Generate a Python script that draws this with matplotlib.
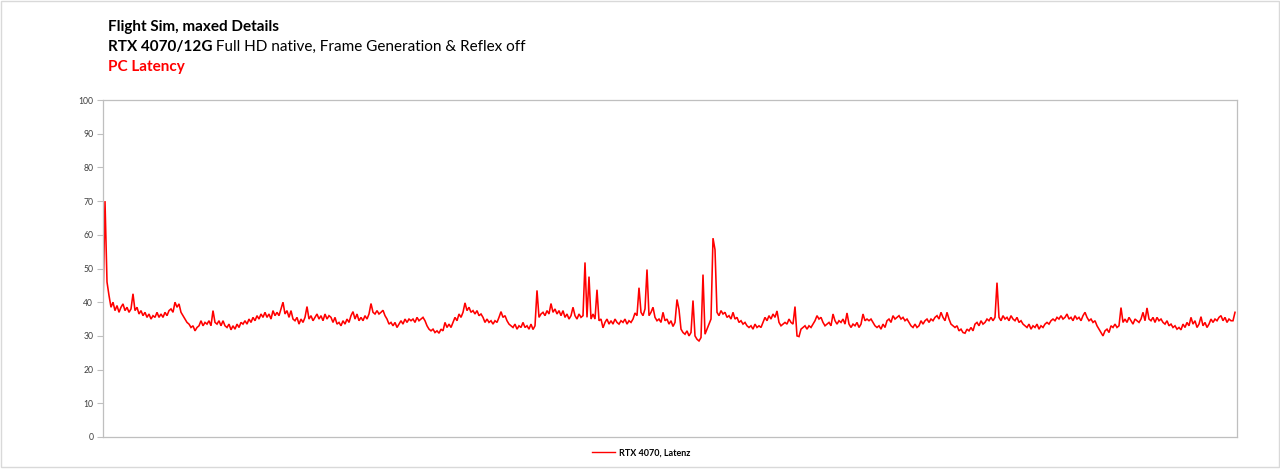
import matplotlib
matplotlib.use("Agg")
import matplotlib.pyplot as plt
from matplotlib.patches import Rectangle

title_line1 = "Flight Sim, maxed Details"
title_line2_bold = "RTX 4070/12G"
title_line2_regular = " Full HD native, Frame Generation & Reflex off"
title_line3 = "PC Latency"
series_label = "RTX 4070, Latenz"
y_ticks = [0, 10, 20, 30, 40, 50, 60, 70, 80, 90, 100]

# PC latency in ms, one sample per ~2 px of the reference trace
latency = [
    39, 70, 46, 42, 38.5, 40, 37.5, 39, 37, 38.5, 39.5, 37.5, 38.5, 37, 38, 42.5, 37.5, 38.5, 36.5, 37.5,
    36, 37, 35.5, 36.5, 35, 36, 35.5, 37, 35.5, 36.5, 35.5, 37, 36, 37.5, 38, 37, 40, 38.5, 39.5, 37,
    36, 35, 34, 33.5, 32.5, 33, 31.5, 32.5, 33, 34.5, 33, 34, 33.5, 34.5, 33, 37.5, 34, 33.5, 34.5, 33,
    34.5, 33, 32.5, 33.5, 31.8, 33, 32, 33.5, 32.5, 34, 33.5, 34.5, 33.5, 35, 34, 35.5, 34.5, 36, 35, 36.5,
    35.5, 37, 35.5, 36.5, 35, 37.5, 36, 37, 36, 38, 40, 36.5, 37.5, 35.5, 37.5, 35, 34.5, 35.5, 33.5, 35,
    34, 35.5, 38.7, 35, 36, 34.5, 35.5, 36.5, 35, 36, 34.5, 36.5, 35, 36, 35.5, 34, 35.5, 33.5, 34, 33,
    34.5, 33.5, 35, 34, 36, 37.2, 35, 36.5, 34.5, 35.5, 34.5, 36, 35, 36.5, 39.6, 37, 36.5, 37.5, 36.5, 37,
    37.6, 36, 35, 33.5, 34, 33, 34, 32.5, 33.5, 34.5, 33.5, 35, 34, 35, 34.5, 35, 34, 35.5, 34.5, 35,
    35.5, 34.5, 33, 32, 31.5, 32, 31, 31.5, 30.8, 32, 31.5, 34, 32.5, 33.5, 32.5, 34, 35.5, 34.5, 36.5, 35.5,
    37, 39.8, 37.5, 38.5, 37, 37.5, 36.5, 37.5, 36, 36.5, 35.5, 34, 35, 34, 34.5, 33.5, 34.5, 34, 35.5, 37.2,
    35.5, 36, 34.5, 33.5, 33, 32.5, 33.5, 32, 33, 32.5, 34, 32.5, 33, 32, 33.5, 31.9, 33, 43.5, 35.5, 36.5,
    37, 36, 37.5, 36.5, 39.6, 37, 38, 36.5, 37.5, 36, 37.5, 35.5, 36.5, 35, 36, 38.5, 36, 35, 36.5, 35.5,
    36, 51.8, 35.5, 47.6, 35, 36.5, 35, 43.7, 34.5, 35, 32.4, 34, 35, 33.5, 34.5, 33.5, 35, 34, 33.5, 34.5,
    34, 35, 33.5, 34.5, 34, 35, 36.8, 36, 44.3, 37, 36, 38, 49.7, 36, 37, 38.5, 35.5, 34.5, 35, 34,
    37, 34.5, 35, 33.5, 34.5, 32.8, 34, 40.8, 37.8, 32, 31, 30.5, 31.5, 30, 31, 40.5, 30, 29, 28.5, 29.5,
    48.2, 30.5, 32, 33.5, 35, 59, 55.6, 37, 36, 37.5, 36.5, 37, 35.5, 36, 35, 37, 35, 35.5, 34, 34.5,
    33.5, 34, 33, 32.5, 33, 32, 33.5, 32.5, 33, 32.5, 34, 35.5, 34.5, 36, 35, 36.5, 35.5, 37.4, 34, 33,
    33.5, 34, 33.5, 35, 34, 33.5, 38.7, 30, 29.8, 32, 32.5, 33, 32, 33, 32.5, 33.5, 34.5, 36, 35, 35.5,
    34, 33, 33.5, 34, 33, 36.5, 34.5, 33.5, 34.5, 34, 35, 33.5, 36.8, 33.5, 32.5, 33.5, 33, 34, 32.5, 33.5,
    36.5, 34.5, 35, 34.5, 35, 34, 33, 32.5, 33, 32, 33.5, 32.5, 34.5, 35, 34, 36, 35, 35.5, 36, 35,
    35.5, 34.5, 35, 34, 33, 32.5, 33.5, 32.5, 33, 34.5, 33.5, 34.5, 35, 34, 35, 34.5, 35.5, 36, 35, 37,
    35.5, 34.5, 37, 35, 33.5, 33, 32.5, 33, 31.5, 32, 31, 30.8, 32, 31.5, 32.5, 31.5, 33.5, 34, 33, 34.5,
    33.5, 34, 35, 34.5, 35.5, 34.5, 35.5, 45.8, 35.5, 34.5, 36, 35, 35.5, 34.5, 36, 35, 34.5, 35.5, 34, 34.5,
    33.5, 33, 32.5, 33.5, 32, 33, 32.5, 33.5, 32, 33, 32.5, 33.5, 34, 33.5, 34.5, 35, 34.5, 35.5, 35, 36,
    35, 35.5, 36.5, 35, 35.5, 34.5, 36, 35, 35.5, 34.5, 36, 37, 35.5, 34.5, 35, 34, 34.5, 33, 32, 31,
    30, 31.5, 32, 31, 33, 32.5, 33.5, 32.5, 33, 38.4, 34, 35, 34, 35.5, 34.5, 33.5, 35, 34.5, 34, 35,
    37, 34.5, 38.3, 35, 34.5, 35.5, 34, 35.5, 34.5, 35, 34, 33.5, 34.5, 33, 33.5, 32.5, 33, 32, 32.5, 31.8,
    33.5, 32.5, 34, 33, 35.5, 33.5, 34.5, 32.5, 33.5, 35.7, 33, 34, 32.5, 33.5, 35, 34, 35, 34.5, 35.5, 36,
    34.5, 35.5, 34, 35, 34.5, 34.5, 37,
]

plt.rcParams['font.family'] = ['Lato', 'DejaVu Sans']

W, H = 1280, 470
fig = plt.figure(figsize=(W / 100, H / 100), dpi=100)
fig.patch.set_facecolor('white')

# outer chart border
fig.add_artist(Rectangle((0.5 / W, 3 / H), (W - 1.5) / W, (H - 4) / H,
                         transform=fig.transFigure, fill=False,
                         edgecolor='#D9D9D9', linewidth=1))

left, right, top, bottom = 103, 1237, 100, 437
ax = fig.add_axes([left / W, 1 - bottom / H, (right - left) / W, (bottom - top) / H])

x = list(range(len(latency)))
line, = ax.plot(x, latency, color='#FF0000', linewidth=1.15, label=series_label,
                solid_joinstyle='miter')

ax.set_xlim(0, len(latency))
ax.set_ylim(0, 100)
ax.set_yticks(y_ticks)
ax.set_yticklabels([str(v) for v in y_ticks], fontsize=6.2, color='#404040')
ax.set_xticks([])
ax.tick_params(axis='y', length=4, width=0.8, color='#BFBFBF', pad=3, direction='out')
for s in ax.spines.values():
    s.set_color('#BFBFBF')
    s.set_linewidth(0.9)

# titles
tx = 108 / W
fs = 11.0
fig.text(tx, 1 - 26.5 / H, title_line1, fontsize=fs, fontweight='bold', color='black', va='center', ha='left')
t2 = fig.text(tx, 1 - 46.5 / H, title_line2_bold, fontsize=fs, fontweight='bold', color='black', va='center', ha='left')
ax.annotate(title_line2_regular, xy=(1, 0.5), xycoords=t2, va='center', ha='left',
            fontsize=fs, color='black', annotation_clip=False)
fig.text(tx, 1 - 67.5 / H, title_line3, fontsize=fs, fontweight='bold', color='#FF0000', va='center', ha='left')

# legend
leg = fig.legend(handles=[line], loc='center', bbox_to_anchor=(641 / W, 1 - 453 / H),
                 frameon=False, prop={'size': 6.5, 'weight': 'bold'}, handlelength=2.6,
                 handletextpad=0.4)
for h in leg.get_lines():
    h.set_linewidth(1.0)

fig.savefig('out.png', dpi=100)
